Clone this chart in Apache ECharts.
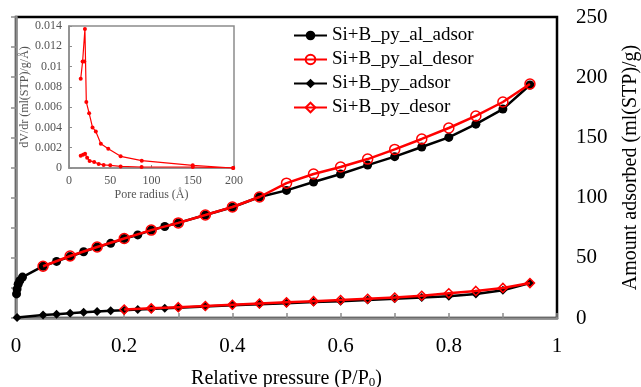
<!DOCTYPE html>
<html>
<head>
<meta charset="utf-8">
<script src="https://cdn.jsdelivr.net/npm/echarts@6/dist/echarts.min.js"></script>
<style>
  html, body { margin: 0; padding: 0; background: #fff; }
  #chart { width: 641px; height: 387px; }
</style>
</head>
<body>
<div id="chart"></div>
<script>
// main isotherms: relative pressure (P/P0) vs amount adsorbed (ml(STP)/g)
const alAdsorP = [0.001, 0.002, 0.004, 0.007, 0.012, 0.05, 0.075, 0.1, 0.125, 0.15, 0.175, 0.2, 0.225, 0.25, 0.275, 0.3, 0.35, 0.4, 0.45, 0.5, 0.55, 0.6, 0.65, 0.7, 0.75, 0.8, 0.85, 0.9, 0.95];
const alAdsorV = [20, 24, 28, 31, 34, 43, 47, 51, 55, 59, 62, 66, 69, 73, 76, 79, 85.5, 92, 100.5, 106, 113, 119.6, 127, 134, 142, 150, 161, 173.5, 193.5];
const alDesorP = [0.05, 0.1, 0.15, 0.2, 0.25, 0.3, 0.35, 0.4, 0.45, 0.5, 0.55, 0.6, 0.65, 0.7, 0.75, 0.8, 0.85, 0.9, 0.95];
const alDesorV = [43, 51.5, 59, 66, 73, 79, 85.5, 92.2, 100.5, 112, 119.6, 125.4, 132, 140, 148.7, 157.8, 167.8, 179.4, 194.4];
const pyAdsorP = [0.002, 0.05, 0.075, 0.1, 0.125, 0.15, 0.175, 0.2, 0.225, 0.25, 0.275, 0.3, 0.35, 0.4, 0.45, 0.5, 0.55, 0.6, 0.65, 0.7, 0.75, 0.8, 0.85, 0.9, 0.95];
const pyAdsorV = [0.5, 2.5, 3.2, 4, 4.8, 5.5, 6, 6.5, 7, 7.5, 8, 8.5, 9.5, 10.5, 11.5, 12.3, 13.2, 14, 15, 16, 17, 18, 20, 23, 29];
const pyDesorP = [0.2, 0.25, 0.3, 0.35, 0.4, 0.45, 0.5, 0.55, 0.6, 0.65, 0.7, 0.75, 0.8, 0.85, 0.9, 0.95];
const pyDesorV = [7, 8, 9, 10, 11, 12, 13, 14, 15, 16, 17, 18.5, 20.5, 22.5, 25, 29];

// inset: pore size distribution
const poreR1 = [14.2, 16.5, 18.5, 19.3, 21, 24.4, 28.5, 32.5, 38.6, 47.6, 62.6, 88.2, 150, 199];
const dvdr1 = [0.0088, 0.0105, 0.0105, 0.0137, 0.0065, 0.0054, 0.004, 0.0036, 0.0024, 0.0019, 0.00115, 0.00072, 0.00026, 0];
const poreR2 = [14.2, 17, 19.5, 22, 25, 30.5, 36, 42, 50, 62.6, 88, 150, 199];
const dvdr2 = [0.0012, 0.0013, 0.0014, 0.001, 0.0007, 0.0006, 0.0004, 0.0003, 0.00026, 0.00016, 0.0001, 0.0001, 0];

const seriesNames = ["Si+B_py_al_adsor", "Si+B_py_al_desor", "Si+B_py_adsor", "Si+B_py_desor"];

const pairs = (xs, ys) => xs.map((x, i) => [x, ys[i]]);
const serif = "Liberation Serif";
const gray = "#8c8c8c";

const chart = echarts.init(document.getElementById("chart"));
const option = {
  backgroundColor: "#fff",
  animation: false,
  textStyle: { fontFamily: serif },
  legend: {
    data: seriesNames,
    orient: "vertical",
    left: 288,
    top: 21,
    itemWidth: 33,
    itemHeight: 12,
    itemGap: 5,
    textStyle: { fontFamily: serif, fontSize: 19, color: "#000", lineHeight: 18 },
  },
  grid: [
    {
      left: 16,
      right: 84,
      top: 17,
      bottom: 69,
      outerBoundsMode: "none",
      show: true,
      borderColor: "#000",
      borderWidth: 2.5,
    },
    {
      left: 69,
      top: 26,
      width: 165,
      height: 142,
      outerBoundsMode: "none",
      show: true,
      borderColor: gray,
      borderWidth: 1.5,
    },
  ],
  xAxis: [
    {
      gridIndex: 0,
      type: "value",
      min: 0,
      max: 1,
      interval: 0.1,
      splitLine: { show: false },
      axisLine: { lineStyle: { color: gray, width: 2.5 } },
      axisTick: { inside: true, length: 5, lineStyle: { color: gray, width: 1.5 } },
      axisLabel: {
        margin: 18,
        fontSize: 21,
        color: "#000",
        fontFamily: serif,
        formatter: (v) => (Math.round(v * 10) % 2 === 0 ? String(Math.round(v * 10) / 10) : ""),
      },
      name: "Relative pressure (P/P{sub|0})",
      nameLocation: "middle",
      nameGap: 50,
      nameTextStyle: {
        fontSize: 20,
        color: "#000",
        fontFamily: serif,
        rich: { sub: { fontSize: 13, verticalAlign: "bottom", padding: [8, 0, 0, 0], fontFamily: serif } },
      },
    },
    {
      gridIndex: 1,
      type: "value",
      min: 0,
      max: 200,
      interval: 50,
      splitLine: { show: false },
      axisLine: { lineStyle: { color: gray, width: 1.5 } },
      axisTick: { inside: true, length: 3, lineStyle: { color: gray } },
      axisLabel: { margin: 7, fontSize: 12, color: "#555", fontFamily: serif },
      name: "Pore radius (Å)",
      nameLocation: "middle",
      nameGap: 21,
      nameTextStyle: { fontSize: 12, color: "#555", fontFamily: serif },
    },
  ],
  yAxis: [
    {
      gridIndex: 0,
      type: "value",
      position: "right",
      min: 0,
      max: 250,
      interval: 25,
      splitLine: { show: false },
      axisLine: { show: true, lineStyle: { color: gray, width: 2.5 } },
      axisTick: { show: true, inside: true, length: 5, lineStyle: { color: gray, width: 1.5 } },
      axisLabel: {
        margin: 19,
        fontSize: 21,
        color: "#000",
        fontFamily: serif,
        formatter: (v) => (v % 50 === 0 ? String(v) : ""),
      },
      name: "Amount adsorbed (ml(STP)/g)",
      nameLocation: "middle",
      nameRotate: 90,
      nameGap: 64,
      nameTextStyle: { fontSize: 20, color: "#000", fontFamily: serif },
    },
    {
      gridIndex: 1,
      type: "value",
      min: 0,
      max: 0.014,
      interval: 0.002,
      splitLine: { show: false },
      axisLine: { show: true, lineStyle: { color: gray, width: 1.5 } },
      axisTick: { show: true, inside: true, length: 3, lineStyle: { color: gray } },
      axisLabel: { margin: 7, fontSize: 12, color: "#555", fontFamily: serif },
      name: "dV/dr (ml(STP)/g/Å)",
      nameLocation: "middle",
      nameGap: 37,
      nameTextStyle: { fontSize: 12, color: "#555", fontFamily: serif },
    },
  ],
  series: [
    {
      name: seriesNames[0],
      type: "line",
      xAxisIndex: 0,
      yAxisIndex: 0,
      data: pairs(alAdsorP, alAdsorV),
      symbol: "circle",
      symbolSize: 9,
      lineStyle: { color: "#000", width: 2.5 },
      itemStyle: { color: "#000" },
      z: 2,
    },
    {
      name: seriesNames[1],
      type: "line",
      xAxisIndex: 0,
      yAxisIndex: 0,
      data: pairs(alDesorP, alDesorV),
      symbol: "circle",
      symbolSize: 10,
      lineStyle: { color: "#ff0000", width: 2.5 },
      itemStyle: { color: "rgba(255,255,255,0)", borderColor: "#ff0000", borderWidth: 1.5 },
      z: 3,
    },
    {
      name: seriesNames[2],
      type: "line",
      xAxisIndex: 0,
      yAxisIndex: 0,
      data: pairs(pyAdsorP, pyAdsorV),
      symbol: "diamond",
      symbolSize: 9,
      lineStyle: { color: "#000", width: 2.5 },
      itemStyle: { color: "#000" },
      z: 2,
    },
    {
      name: seriesNames[3],
      type: "line",
      xAxisIndex: 0,
      yAxisIndex: 0,
      data: pairs(pyDesorP, pyDesorV),
      symbol: "diamond",
      symbolSize: 9,
      lineStyle: { color: "#ff0000", width: 2.5 },
      itemStyle: { color: "rgba(255,255,255,0)", borderColor: "#ff0000", borderWidth: 1.5 },
      z: 3,
    },
    {
      name: "psd1",
      type: "line",
      xAxisIndex: 1,
      yAxisIndex: 1,
      data: pairs(poreR1, dvdr1),
      symbol: "circle",
      symbolSize: 4,
      lineStyle: { color: "#ff0000", width: 1.2 },
      itemStyle: { color: "#ff0000" },
    },
    {
      name: "psd2",
      type: "line",
      xAxisIndex: 1,
      yAxisIndex: 1,
      data: pairs(poreR2, dvdr2),
      symbol: "circle",
      symbolSize: 4,
      lineStyle: { color: "#ff0000", width: 1.2 },
      itemStyle: { color: "#ff0000" },
    },
  ],
};
chart.setOption(option);
</script>
</body>
</html>
